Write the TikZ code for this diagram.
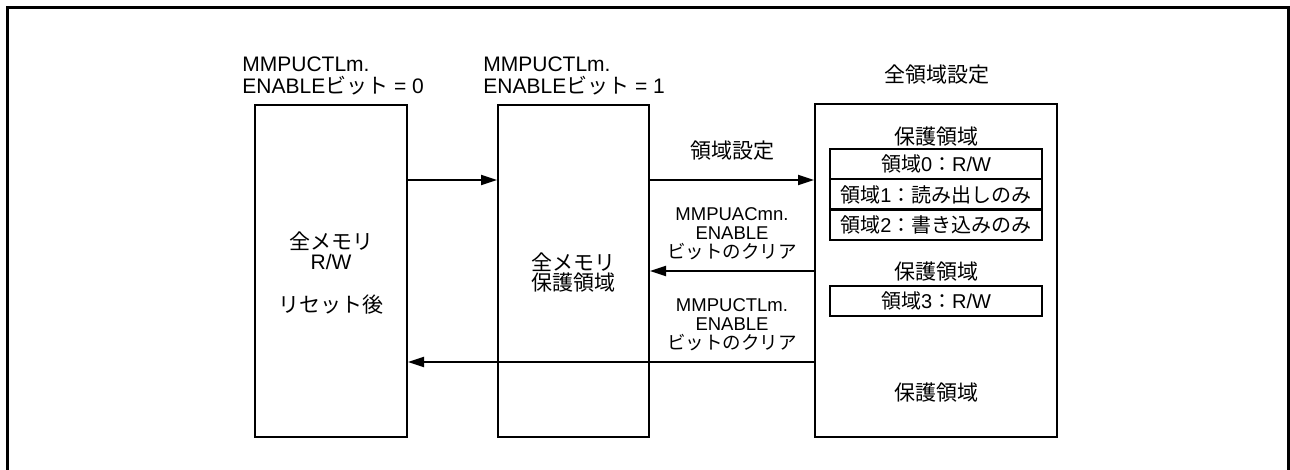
\documentclass[tikz,border=0pt]{standalone}
\usepackage{fontspec}
\setmainfont{Liberation Sans}
\newfontfamily\cjk{Noto Sans CJK JP}
\newcommand\J[1]{{\cjk #1}}
\usetikzlibrary{arrows.meta}
\begin{document}
\begin{tikzpicture}[x=0.5pt,y=-0.5pt,
  box/.style={draw,line width=1pt,inner sep=0pt},
  row/.style={draw,line width=1pt,inner sep=0pt,minimum width=106pt,minimum height=15pt},
  txt/.style={inner sep=0pt,align=center,font=\fontsize{10.5pt}{11pt}\selectfont},
  lbl/.style={inner sep=0pt,align=center,font=\fontsize{9.25pt}{9.6pt}\selectfont},
  arr/.style={line width=1pt,-{Triangle[length=8pt,width=5pt]}}]
\useasboundingbox (0,0) rectangle (1290,470);
\draw[line width=1.5pt] (7,470) -- (7,8) -- (1288,8) -- (1288,470);
% main boxes
\node[box,minimum width=76pt,minimum height=166pt] (L) at (331,271) {};
\node[box,minimum width=75.5pt,minimum height=166pt] (M) at (573.5,271) {};
\node[box,minimum width=121pt,minimum height=166.5pt] (R) at (936,270.5) {};
% top labels
\node[txt,align=left,anchor=west] (tl) at (242,76) {MMPUCTLm.\\ENABLE\J{ビット} = 0};
\node[txt,align=left,anchor=west] (tm) at (483,76) {MMPUCTLm.\\ENABLE\J{ビット} = 1};
\node[txt] (tr) at (937,75) {\J{全領域設定}};
% left box text
\node[txt] (l1) at (331,241) {\J{全メモリ}};
\node[txt] (l2) at (331,262) {R/W};
\node[txt] (l3) at (331,305) {\J{リセット後}};
% middle box text
\node[txt] (m1) at (573,262) {\J{全メモリ}};
\node[txt] (m2) at (573,283) {\J{保護領域}};
% right box contents
\node[txt] (p1) at (936,137) {\J{保護領域}};
\node[row] (r0) at (936,164) {\J{領域}0\J{：}R/W};
\node[row] (r1) at (936,194.5) {\J{領域}1\J{：読み出しのみ}};
\node[row] (r2) at (936,225) {\J{領域}2\J{：書き込みのみ}};
\node[txt] (p2) at (936,272) {\J{保護領域}};
\node[row] (r3) at (936,301) {\J{領域}3\J{：}R/W};
\node[txt] (p3) at (936,393) {\J{保護領域}};
% arrows
\coordinate (ya) at (0,180);
\coordinate (yb) at (0,271);
\coordinate (yc) at (0,362);
\draw[arr] (L.east |- ya) -- (M.west |- ya);
\draw[arr] (M.east |- ya) -- (R.west |- ya);
\draw[arr] (R.west |- yb) -- (M.east |- yb);
\draw[arr] (R.west |- yc) -- (L.east |- yc);
% arrow labels
\node[txt] (a1) at (732,151) {\J{領域設定}};
\node[lbl] (a2) at (732,234) {MMPUACmn.\\ENABLE\\\J{ビットのクリア}};
\node[lbl] (a3) at (732,325) {MMPUCTLm.\\ENABLE\\\J{ビットのクリア}};
\end{tikzpicture}
\end{document}
